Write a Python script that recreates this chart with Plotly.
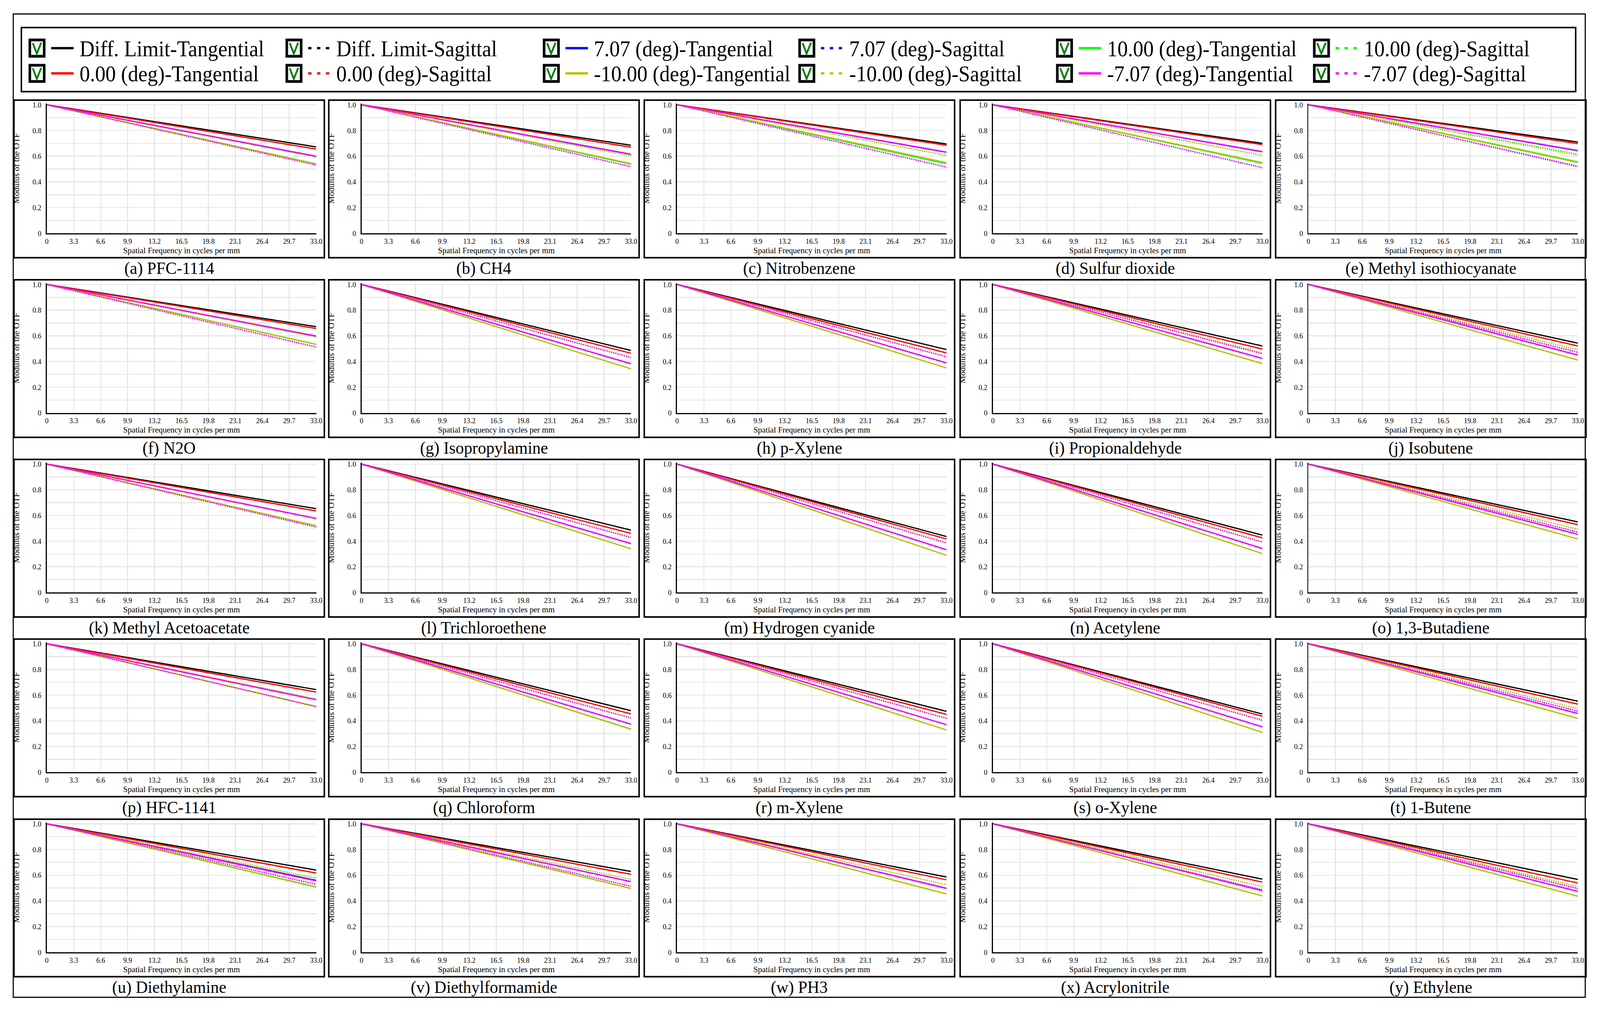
import plotly.graph_objects as go

W, H = 4324, 2595

PANEL_LABELS = [
    "(a) PFC-1114", "(b) CH4", "(c) Nitrobenzene", "(d) Sulfur dioxide", "(e) Methyl isothiocyanate",
    "(f) N2O", "(g) Isopropylamine", "(h) p-Xylene", "(i) Propionaldehyde", "(j) Isobutene",
    "(k) Methyl Acetoacetate", "(l) Trichloroethene", "(m) Hydrogen cyanide", "(n) Acetylene", "(o) 1,3-Butadiene",
    "(p) HFC-1141", "(q) Chloroform", "(r) m-Xylene", "(s) o-Xylene", "(t) 1-Butene",
    "(u) Diethylamine", "(v) Diethylformamide", "(w) PH3", "(x) Acrylonitrile", "(y) Ethylene",
]

# spatial frequency (cycles/mm) at which the curves are sampled
FREQ = [0.0, 33.0]
MTF_AT_ZERO = 1.0

# modulus of the OTF at 33.0 cycles/mm, panels (a)..(y)
END_DL_T = [.672, .685, .695, .700, .710, .671, .486, .493, .521, .543, .653, .486, .436, .447, .550,
            .643, .479, .474, .453, .553, .640, .629, .586, .569, .567]
END_DL_S = [.672, .685, .695, .700, .710, .671, .486, .493, .521, .543, .653, .486, .436, .447, .550,
            .643, .479, .474, .453, .553, .640, .629, .586, .569, .567]
END_0_T = [.655, .670, .686, .690, .698, .657, .464, .467, .497, .521, .636, .461, .417, .426, .529,
           .624, .454, .450, .436, .530, .617, .607, .564, .546, .539]
END_0_S = [.655, .670, .683, .690, .698, .657, .464, .467, .497, .521, .634, .461, .417, .426, .527,
           .624, .454, .450, .436, .530, .615, .607, .564, .546, .539]
END_P707_T = [.597, .614, .630, .634, .642, .597, .382, .389, .424, .450, .577, .381, .333, .343, .453,
              .564, .374, .370, .353, .457, .560, .550, .497, .479, .474]
END_P707_S = [.532, .518, .515, .510, .518, .512, .430, .436, .461, .471, .510, .429, .386, .393, .471,
              .511, .421, .419, .404, .476, .529, .514, .500, .486, .496]
END_P10_T = [.540, .537, .540, .544, .556, .534, .343, .350, .384, .411, .520, .341, .290, .303, .417,
             .511, .336, .329, .310, .419, .507, .497, .454, .439, .436]
END_P10_S = [.597, .602, .607, .607, .616, .592, .432, .438, .467, .490, .575, .431, .388, .395, .493,
             .571, .423, .421, .406, .496, .578, .569, .526, .511, .511]
END_M10_T = [.538, .542, .550, .550, .550, .532, .343, .350, .384, .411, .520, .341, .290, .303, .417,
             .511, .334, .329, .310, .419, .510, .497, .454, .439, .436]
END_M10_S = [.594, .600, .605, .605, .606, .590, .432, .438, .467, .490, .575, .431, .388, .395, .493,
             .571, .423, .421, .406, .496, .576, .569, .526, .511, .511]
END_M707_T = [.600, .616, .632, .636, .645, .599, .383, .389, .424, .450, .577, .381, .333, .343, .453,
              .564, .374, .370, .353, .457, .555, .550, .497, .479, .474]
END_M707_S = [.530, .518, .515, .510, .522, .513, .431, .436, .461, .471, .510, .429, .386, .393, .471,
              .511, .421, .419, .404, .476, .529, .514, .500, .486, .496]

X_TICKS = [0, 3.3, 6.6, 9.9, 13.2, 16.5, 19.8, 23.1, 26.4, 29.7, 33.0]
X_TICK_LABELS = ["0", "3.3", "6.6", "9.9", "13.2", "16.5", "19.8", "23.1", "26.4", "29.7", "33.0"]
Y_TICKS = [0, 0.2, 0.4, 0.6, 0.8, 1.0]
Y_TICK_LABELS = ["0", "0.2", "0.4", "0.6", "0.8", "1.0"]

SERIES = [
    ("Diff. Limit-Tangential", "#000000", "solid", END_DL_T),
    ("Diff. Limit-Sagittal", "#000000", "dot", END_DL_S),
    ("0.00 (deg)-Tangential", "#FF0000", "solid", END_0_T),
    ("0.00 (deg)-Sagittal", "#FF0000", "dot", END_0_S),
    ("7.07 (deg)-Tangential", "#0000FF", "solid", END_P707_T),
    ("7.07 (deg)-Sagittal", "#0000FF", "dot", END_P707_S),
    ("10.00 (deg)-Tangential", "#00FF00", "solid", END_P10_T),
    ("10.00 (deg)-Sagittal", "#00FF00", "dot", END_P10_S),
    ("-10.00 (deg)-Tangential", "#BFBF00", "solid", END_M10_T),
    ("-10.00 (deg)-Sagittal", "#BFBF00", "dot", END_M10_S),
    ("-7.07 (deg)-Tangential", "#FF00FF", "solid", END_M707_T),
    ("-7.07 (deg)-Sagittal", "#FF00FF", "dot", END_M707_S),
]

LEGEND_GRID = [
    ["Diff. Limit-Tangential", "Diff. Limit-Sagittal", "7.07 (deg)-Tangential",
     "7.07 (deg)-Sagittal", "10.00 (deg)-Tangential", "10.00 (deg)-Sagittal"],
    ["0.00 (deg)-Tangential", "0.00 (deg)-Sagittal", "-10.00 (deg)-Tangential",
     "-10.00 (deg)-Sagittal", "-7.07 (deg)-Tangential", "-7.07 (deg)-Sagittal"],
]

# ---------------- layout geometry (pixels) ----------------
FRAME_LEFT = [33, 888, 1745, 2603, 3460]
FRAME_TOP = [251, 714, 1177, 1640, 2104]
FRAME_W, FRAME_H = 843, 406
PLOT_X0, PLOT_X1 = 89, 821          # offsets of x=0 and x=33 inside a frame
PLOT_Y_TOP, PLOT_Y_ZERO = 12, 343   # offsets of y=1.0 and y=0 inside a frame
Y_MAX = 1.01

SERIF = "Liberation Serif, Times New Roman, serif"


def fx(p):
    return p / W


def fy(p):
    return 1 - p / H


fig = go.Figure()
layout = dict(
    width=W, height=H, margin=dict(l=0, r=0, t=0, b=0),
    paper_bgcolor="white", plot_bgcolor="white", showlegend=False,
    font=dict(family=SERIF, color="black"),
)
shapes = []
annotations = []

for i, label in enumerate(PANEL_LABELS):
    r, c = divmod(i, 5)
    L, T = FRAME_LEFT[c], FRAME_TOP[r]
    n = "" if i == 0 else str(i + 1)
    unit = (PLOT_Y_ZERO - PLOT_Y_TOP) / 1.0
    y_top_px = T + PLOT_Y_ZERO - Y_MAX * unit
    layout["xaxis" + n] = dict(
        domain=[fx(L + PLOT_X0), fx(L + PLOT_X1)], anchor="y" + n,
        range=[0, 33.0], tickmode="array", tickvals=X_TICKS, ticktext=X_TICK_LABELS,
        showgrid=True, gridcolor="#e6e6e6", gridwidth=2.5, zeroline=False,
        showline=True, linecolor="black", linewidth=3, ticks="",
        tickfont=dict(family=SERIF, size=19, color="black"), ticklabelstandoff=1,
        title=dict(text="Spatial Frequency in cycles per mm",
                   font=dict(family=SERIF, size=22, color="black"), standoff=0),
        fixedrange=True,
    )
    layout["yaxis" + n] = dict(
        domain=[fy(T + PLOT_Y_ZERO), fy(y_top_px)], anchor="x" + n,
        range=[0, Y_MAX], tickmode="array", tickvals=Y_TICKS, ticktext=Y_TICK_LABELS,
        showgrid=True, gridcolor="#e6e6e6", gridwidth=2.5, zeroline=False,
        minor=dict(tickmode="linear", tick0=0, dtick=0.1, showgrid=True,
                   gridcolor="#e6e6e6", gridwidth=2.5, ticks=""),
        showline=True, linecolor="black", linewidth=3, ticks="",
        tickfont=dict(family=SERIF, size=19, color="black"), ticklabelstandoff=8,
        title=dict(text="Modulus of the OTF",
                   font=dict(family=SERIF, size=22, color="black"), standoff=30),
        fixedrange=True,
    )
    for name, color, dash, ends in SERIES:
        fig.add_trace(go.Scatter(
            x=FREQ, y=[MTF_AT_ZERO, ends[i]], mode="lines", name=name,
            line=dict(color=color, width=3, dash=dash),
            xaxis="x" + n, yaxis="y" + n, showlegend=False, hoverinfo="skip",
        ))
    # panel frame
    shapes.append(dict(type="rect", xref="paper", yref="paper",
                       x0=fx(L), x1=fx(L + FRAME_W), y0=fy(T + FRAME_H), y1=fy(T),
                       line=dict(color="black", width=4), fillcolor="rgba(0,0,0,0)"))
    annotations.append(dict(text=label, x=fx(L + FRAME_W / 2), y=fy(T + 433),
                            xref="paper", yref="paper", showarrow=False,
                            xanchor="center", yanchor="middle",
                            font=dict(family=SERIF, size=45, color="black")))

# outer border and legend box
shapes.append(dict(type="rect", xref="paper", yref="paper",
                   x0=fx(31), x1=fx(4301), y0=fy(2563), y1=fy(29),
                   line=dict(color="black", width=3), fillcolor="rgba(0,0,0,0)"))
shapes.append(dict(type="rect", xref="paper", yref="paper",
                   x0=fx(53), x1=fx(4275), y0=fy(229), y1=fy(64),
                   line=dict(color="black", width=4), fillcolor="rgba(0,0,0,0)"))

LEG_COL_X = [73, 771, 1470, 2164, 2864, 3562]
LEG_ROW_Y = [117, 182]
style = {name: (color, dash) for name, color, dash, _ in SERIES}
for ri, row in enumerate(LEGEND_GRID):
    yc = LEG_ROW_Y[ri]
    for ci, name in enumerate(row):
        x = LEG_COL_X[ci]
        color, dash = style[name]
        # check box
        shapes.append(dict(type="rect", xref="paper", yref="paper",
                           x0=fx(x + 3), x1=fx(x + 42), y0=fy(yc + 21), y1=fy(yc - 21),
                           line=dict(color="black", width=7), fillcolor="white"))
        path = "M {} {} L {} {} L {} {}".format(
            fx(x + 11), fy(yc - 13), fx(x + 22), fy(yc + 14), fx(x + 34), fy(yc - 14))
        shapes.append(dict(type="path", xref="paper", yref="paper", path=path,
                           line=dict(color="#0a800a", width=5)))
        # line sample
        shapes.append(dict(type="line", xref="paper", yref="paper",
                           x0=fx(x + 61), x1=fx(x + 122), y0=fy(yc), y1=fy(yc),
                           line=dict(color=color, width=6,
                                     dash="solid" if dash == "solid" else "9px,15px")))
        annotations.append(dict(text=name, x=fx(x + 136), y=fy(yc + 2),
                                xref="paper", yref="paper", showarrow=False,
                                xanchor="left", yanchor="middle",
                                font=dict(family=SERIF, size=56, color="black")))

layout["shapes"] = shapes
layout["annotations"] = annotations
fig.update_layout(**layout)

# stretch the fixed-size figure so that it fills the whole browser viewport
FIT_SCRIPT = """
var gd = document.getElementById('{plot_id}');
document.documentElement.style.margin = '0';
document.documentElement.style.padding = '0';
document.body.style.margin = '0';
document.body.style.padding = '0';
document.body.style.overflow = 'hidden';
document.documentElement.style.overflow = 'hidden';
var vw = window.innerWidth, vh = window.innerHeight;
var sx = vw / %d, sy = vh / %d;
var wrap = gd.parentElement;
wrap.style.width = vw + 'px';
wrap.style.height = vh + 'px';
wrap.style.overflow = 'hidden';
gd.style.transformOrigin = '0 0';
gd.style.transform = 'scale(' + sx + ',' + sy + ')';
""" % (W, H)

fig.write_html("out.html", post_script=FIT_SCRIPT,
               config={"displayModeBar": False, "staticPlot": True})
